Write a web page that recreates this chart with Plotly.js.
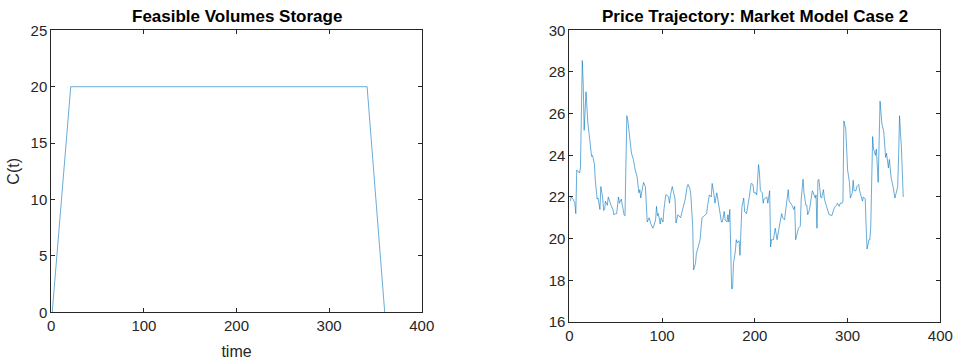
<!DOCTYPE html>
<html>
<head>
<meta charset="utf-8">
<script src="https://cdn.plot.ly/plotly-3.0.1.min.js"></script>
<style>html,body{margin:0;padding:0;background:#fff}#chart{width:957px;height:360px}</style>
</head>
<body>
<div id="chart"></div>
<script>
// Left panel: feasible storage volume
const storageTime = [1, 21, 341, 360];
const storageVolume = [0, 20, 20, 0];

// Right panel: price trajectory
const priceDays = [1,2,4,6,7,8,10,11,12,14,15,16,18,19,20,22,24,25,27,28,30,31,33,34,36,37,38,39,41,42,44,45,47,48,50,51,53,54,56,57,59,60,62,63,64,65,67,69,71,73,75,76,77,79,80,82,83,84,86,87,88,90,91,93,94,95,96,98,99,101,102,104,105,107,108,109,111,112,114,115,117,118,120,121,123,124,125,127,128,130,131,133,134,136,137,139,141,143,145,146,148,149,151,153,154,156,157,159,161,162,164,165,167,168,170,171,172,173,175,176,177,179,180,181,183,184,185,186,188,189,191,192,194,196,198,199,201,202,204,205,206,208,209,210,212,213,214,216,217,218,220,221,222,224,225,227,229,230,232,233,235,236,237,239,240,242,243,244,246,247,249,250,252,253,255,256,257,259,260,262,263,265,266,267,268,269,271,272,274,275,277,278,280,281,283,285,286,288,289,291,292,294,295,296,298,299,300,302,303,305,306,307,309,310,312,313,315,316,317,319,320,321,323,324,325,327,328,330,331,332,333,335,336,337,339,340,341,342,344,345,346,347,349,350,351,353,354,355,356,357,358,360];
const priceValues = [21.8,22.0,21.9,21.7,21.2,23.3,23.2,23.15,23.4,28.55,27.45,25.2,27.05,25.9,25.55,24.75,23.95,24.0,23.6,22.8,21.9,21.95,21.4,22.5,21.95,21.35,21.4,21.8,21.6,22.0,21.7,21.6,21.4,21.15,21.2,21.2,22.0,21.7,21.9,21.6,21.15,21.1,25.9,25.7,25.4,24.9,24.1,23.8,23.3,23.0,22.2,22.35,21.95,22.5,22.7,22.5,21.2,20.8,21.0,20.8,20.7,20.5,20.6,20.9,21.55,21.1,21.2,20.7,21.0,20.8,21.4,22.1,22.1,22.0,21.7,22.1,22.5,22.3,21.9,20.75,21.15,21.1,21.0,21.2,21.55,21.7,21.9,22.5,22.6,22.4,22.1,20.6,18.5,18.8,19.3,19.6,19.95,21.0,21.1,21.1,21.2,21.55,22.1,22.0,22.65,22.1,21.7,22.2,21.7,21.3,20.8,20.8,21.3,20.9,20.8,21.15,20.8,21.4,17.6,17.6,18.8,19.4,19.95,19.8,19.9,19.2,20.3,21.5,21.95,21.3,21.2,21.55,22.0,22.65,22.6,22.2,22.2,22.1,23.55,23.15,22.3,22.2,21.7,21.9,22.0,22.0,21.7,22.3,19.6,19.95,19.95,20.35,20.5,19.95,20.3,20.75,21.2,21.0,20.9,21.2,22.0,22.35,21.8,21.7,21.6,21.4,21.55,19.95,20.3,20.5,20.6,21.9,22.85,22.2,21.6,21.6,21.15,21.4,21.7,22.3,22.2,21.95,22.1,20.5,22.8,22.85,22.0,21.95,22.35,21.9,21.6,21.4,21.15,21.15,21.1,21.4,21.5,21.6,21.7,21.55,21.7,21.7,21.8,25.65,25.25,24.3,23.3,22.7,21.95,22.2,22.8,22.3,22.3,22.5,22.6,22.3,22.0,21.8,22.0,21.9,20.6,19.5,19.95,19.95,20.6,24.9,24.3,24.0,24.3,23.3,22.7,26.6,26.2,25.5,25.15,24.3,23.9,24.1,23.4,23.8,23.2,22.9,22.5,22.3,21.95,22.3,22.5,23.95,25.9,25.1,24.4,22.0];

const leftTitle = 'Feasible Volumes Storage';
const rightTitle = 'Price Trajectory: Market Model Case 2';
const leftXLabel = 'time';
const leftYLabel = 'C(t)';

const ink = '#262626';
const lineColor = '#0072BD';
const fontFam = '"Liberation Sans", Arial, Helvetica, sans-serif';

const axisBase = {
  showline: true, linecolor: ink, linewidth: 1, mirror: 'ticks',
  ticks: 'inside', ticklen: 4, tickwidth: 1, tickcolor: ink,
  showgrid: false, zeroline: false, automargin: false,
  tickfont: {family: fontFam, size: 15, color: ink}
};

const traces = [
  {x: storageTime, y: storageVolume, type: 'scatter', mode: 'lines',
   line: {color: lineColor, width: 0.7}, opacity: 0.85, xaxis: 'x', yaxis: 'y', hoverinfo: 'x+y'},
  {x: priceDays, y: priceValues, type: 'scatter', mode: 'lines',
   line: {color: lineColor, width: 0.7}, opacity: 0.85, xaxis: 'x2', yaxis: 'y2', hoverinfo: 'x+y'}
];

const layout = {
  width: 957, height: 360,
  margin: {l: 0, r: 0, t: 0, b: 0},
  paper_bgcolor: '#ffffff', plot_bgcolor: '#ffffff',
  showlegend: false,
  font: {family: fontFam, color: ink},
  xaxis: Object.assign({}, axisBase, {domain: [0.0536, 0.4407], range: [0, 400], tickvals: [0,100,200,300,400],
    title: {text: leftXLabel, font: {family: fontFam, size: 16, color: ink}, standoff: 12}}),
  yaxis: Object.assign({}, axisBase, {domain: [0.1325, 0.9158], range: [0, 25], tickvals: [0,5,10,15,20,25],
    title: {text: leftYLabel, font: {family: fontFam, size: 16, color: ink}, standoff: 6}}),
  xaxis2: Object.assign({}, axisBase, {domain: [0.5949, 0.9826], range: [0, 400], tickvals: [0,100,200,300,400], anchor: 'y2'}),
  yaxis2: Object.assign({}, axisBase, {domain: [0.1056, 0.9158], range: [16, 30], tickvals: [16,18,20,22,24,26,28,30], anchor: 'x2'}),
  annotations: [
    {text: '<b>' + leftTitle + '</b>', xref: 'paper', yref: 'paper', x: (0.0536 + 0.4407) / 2, y: 1 - 16.5 / 360,
     xanchor: 'center', yanchor: 'middle', showarrow: false, font: {family: fontFam, size: 17, color: '#000'}},
    {text: '<b>' + rightTitle + '</b>', xref: 'paper', yref: 'paper', x: (0.5949 + 0.9826) / 2, y: 1 - 16.5 / 360,
     xanchor: 'center', yanchor: 'middle', showarrow: false, font: {family: fontFam, size: 17, color: '#000'}}
  ]
};

Plotly.newPlot('chart', traces, layout, {displayModeBar: false, staticPlot: true});
</script>
</body>
</html>
